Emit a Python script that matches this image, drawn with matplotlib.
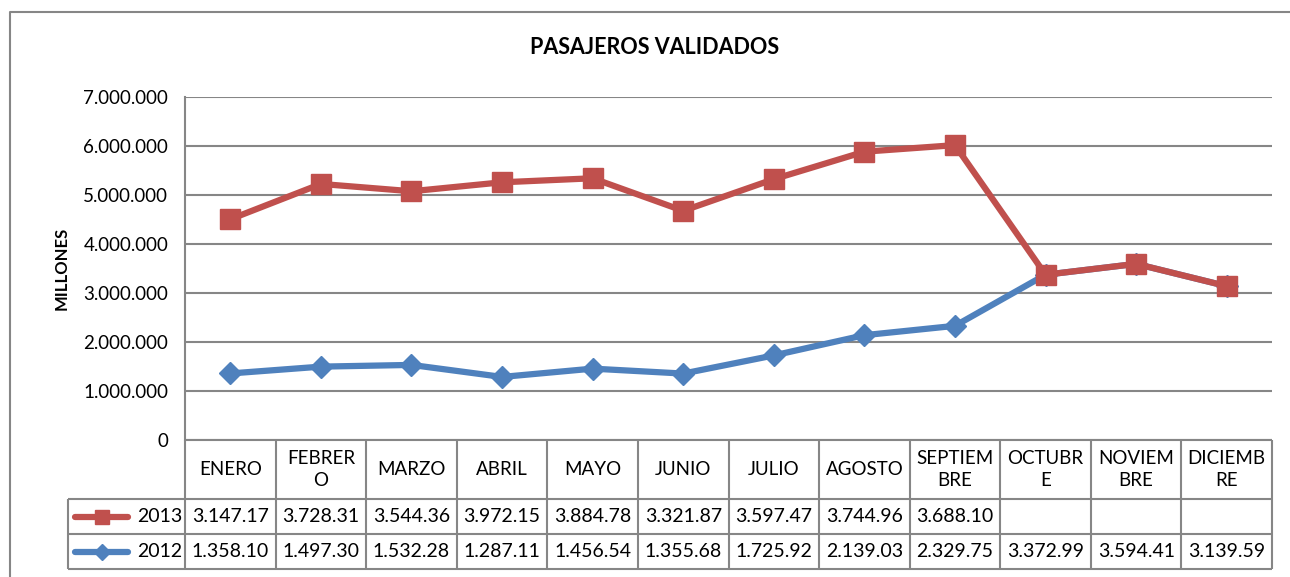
import numpy as np
import matplotlib
matplotlib.use("Agg")
import matplotlib.pyplot as plt
from matplotlib.lines import Line2D

plt.rcParams['font.family'] = ['Lato', 'DejaVu Sans']

# categorías y valores (pasajeros validados por mes)
meses = ["ENERO", "FEBRER\nO", "MARZO", "ABRIL", "MAYO", "JUNIO", "JULIO",
         "AGOSTO", "SEPTIEM\nBRE", "OCTUBR\nE", "NOVIEM\nBRE", "DICIEMB\nRE"]
v2012 = [1358100, 1497300, 1532280, 1287110, 1456540, 1355680, 1725920,
         2139030, 2329750, 3372990, 3594410, 3139590]
v2013 = [3147170, 3728310, 3544360, 3972150, 3884780, 3321870, 3597470,
         3744960, 3688100, None, None, None]
yticks = [0, 1000000, 2000000, 3000000, 4000000, 5000000, 6000000, 7000000]

ROJO = "#C0504D"
AZUL = "#4F81BD"
GRIS = "#868686"
FS = 13.5

W, H = 1290, 577
fig = plt.figure(figsize=(W / 100, H / 100), dpi=100)


def px_axes(x0, y0, x1, y1):
    # rectángulo en píxeles (origen arriba-izquierda) -> axes
    return fig.add_axes([x0 / W, 1 - y1 / H, (x1 - x0) / W, (y1 - y0) / H])


def miles(v):
    return f"{v:,.0f}".replace(",", ".")


# borde del área del gráfico (solo se ven el lado izquierdo y el superior)
fig.add_artist(Line2D([10 / W, 10 / W, 1.0], [0, 1 - 12 / H, 1 - 12 / H],
                      transform=fig.transFigure, color=GRIS, linewidth=1.5))

PL, PR, PT, PB = 185, 1272, 97, 440
ax = px_axes(PL, PT, PR, PB)
x = np.arange(len(meses))

# gráfico de líneas apilado: la serie 2013 se suma sobre 2012
y2012 = np.array(v2012, dtype=float)
y2013 = y2012 + np.array([v if v is not None else 0 for v in v2013], dtype=float)

ax.plot(x, y2012, color=AZUL, linewidth=4.5, marker="D", markersize=11,
        markeredgecolor=AZUL, zorder=3)
ax.plot(x, y2013, color=ROJO, linewidth=4.5, marker="s", markersize=14,
        markeredgecolor=ROJO, zorder=4)

ax.set_xlim(-0.5, len(meses) - 0.5)
ax.set_ylim(0, 7000000)
ax.set_yticks(yticks)
ax.set_yticklabels([miles(v) for v in yticks], fontsize=FS)
ax.set_xticks([])
ax.grid(axis="y", color=GRIS, linewidth=1.5)
ax.set_axisbelow(True)
for s in ["top", "right", "bottom"]:
    ax.spines[s].set_visible(False)
ax.spines["left"].set_color(GRIS)
ax.spines["left"].set_linewidth(1.5)
ax.tick_params(axis="y", length=0, pad=12)
ax.set_ylabel("MILLONES", fontsize=12, fontweight="bold", labelpad=10)

fig.text(655 / W, 1 - 48 / H, "PASAJEROS VALIDADOS", ha="center", va="center",
         fontsize=15.5, fontweight="bold")

# tabla de datos bajo el eje
TL, TT, TB = 68, 440, 569
R1, R2 = 499, 534
upp = len(meses) / (PR - PL)
tab = px_axes(TL, TT, PR, TB)
tab.set_xlim(-0.5 - (PL - TL) * upp, len(meses) - 0.5)
tab.set_ylim(TB, TT)
tab.axis("off")
xl = tab.get_xlim()[0]

lk = dict(color=GRIS, linewidth=1.5, solid_capstyle="butt")
# líneas horizontales
tab.plot([-0.5, len(meses) - 0.5], [TT, TT], **lk)
for yy in [R1, R2, TB]:
    tab.plot([xl, len(meses) - 0.5], [yy, yy], **lk)
# líneas verticales
for i in range(len(meses) + 1):
    tab.plot([i - 0.5, i - 0.5], [TT, TB], **lk)
tab.plot([xl, xl], [R1, TB], **lk)
for a in tab.lines:
    a.set_clip_on(False)

for i, m in enumerate(meses):
    tab.text(i, (TT + R1) / 2, m, ha="center", va="center", fontsize=FS,
             linespacing=1.3)

filas = [("2013", v2013, ROJO, "s", 10, (R1 + R2) / 2),
         ("2012", v2012, AZUL, "D", 8, (R2 + TB) / 2)]
for nombre, vals, col, mk, ms, yc in filas:
    x0 = xl + 7 * upp
    x1 = xl + 60 * upp
    tab.add_line(Line2D([x0, x1], [yc, yc], color=col, linewidth=4.5,
                        solid_capstyle="round", clip_on=False))
    tab.add_line(Line2D([(x0 + x1) / 2], [yc], color=col, marker=mk, markersize=ms,
                        linestyle="none", clip_on=False))
    tab.text(-0.5 - 3 * upp, yc, nombre, ha="right", va="center", fontsize=FS + 0.5)
    for i, v in enumerate(vals):
        if v is None:
            continue
        tab.text(i, yc, miles(v)[:8], ha="center", va="center", fontsize=FS + 0.5)

fig.savefig("out.png", dpi=100)
